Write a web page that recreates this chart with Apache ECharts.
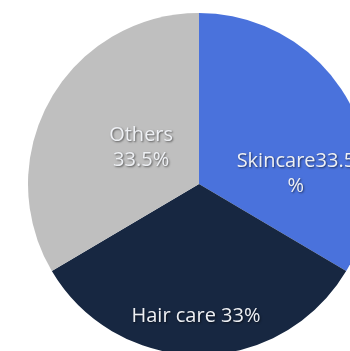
<!DOCTYPE html>
<html><head><meta charset="utf-8">
<script src="https://cdn.jsdelivr.net/npm/echarts@6/dist/echarts.min.js"></script>
<style>html,body{margin:0;padding:0;background:#fff}#c{width:350px;height:351px}</style>
</head><body><div id="c"></div>
<script>
const categories = ['Skincare', 'Hair care', 'Others'];
const values = [33.5, 33, 33.5];
const labelTexts = ['Skincare33.5\n%', 'Hair care 33%', 'Others\n33.5%'];
const colors = ['#4a72dc', '#172741', '#bfbfbf'];
const labelShift = [[20, 34], [-3, 44], [19, 8]];

const chart = echarts.init(document.getElementById('c'), null, {renderer: 'canvas'});
chart.setOption({
  animation: false,
  series: [{
    type: 'pie',
    center: [199, 184],
    radius: 171,
    startAngle: 90,
    clockwise: true,
    silent: true,
    data: categories.map((c, i) => ({
      name: c, value: values[i],
      itemStyle: {color: colors[i]},
      label: {formatter: labelTexts[i]}
    })),
    label: {
      position: 'inside',
      color: '#eef0f4',
      fontFamily: 'Open Sans',
      fontSize: 20,
      lineHeight: 25,
      textShadowColor: 'rgba(0,0,0,0.55)',
      textShadowBlur: 2,
      textShadowOffsetX: 1,
      textShadowOffsetY: 1
    },
    labelLine: {show: false},
    labelLayout: function (p) {
      return {dx: labelShift[p.dataIndex][0], dy: labelShift[p.dataIndex][1]};
    }
  }]
});
</script></body></html>
